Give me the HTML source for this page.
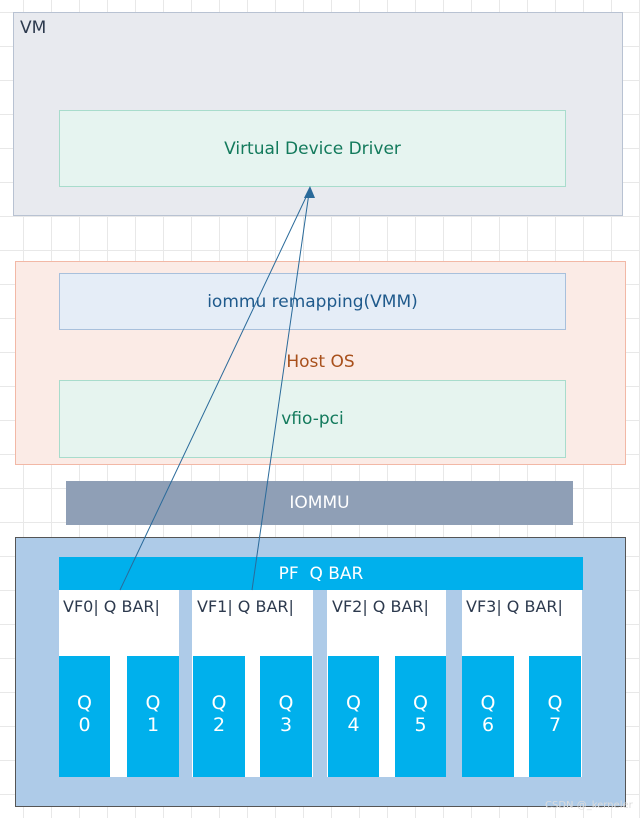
<!DOCTYPE html>
<html><head><style>
body{margin:0;width:640px;height:818px;position:relative;overflow:hidden;font-family:"DejaVu Sans","Liberation Sans",sans-serif;
background-color:#fff;background-image:linear-gradient(#e8e8e8 1px,transparent 1px),linear-gradient(90deg,#e8e8e8 1px,transparent 1px);background-size:28px 34px;background-position:23px 12px;}
.b{position:absolute;box-sizing:border-box;}
.c{display:flex;align-items:center;justify-content:center;}
.q{background:#00b0ec;color:#fff;font-size:19px;text-align:center;line-height:22px;padding-top:36px;}
</style></head><body>
<div class="b" style="left:13px;top:12px;width:610px;height:204px;background:#e8eaef;border:1px solid #b8c2d2"></div>
<div class="b" style="left:20px;top:18px;font-size:17px;color:#2d3a4e">VM</div>
<div class="b c" style="left:59px;top:110px;width:507px;height:77px;background:#e6f4f0;border:1px solid #a8dccc;color:#137a5c;font-size:17px">Virtual Device Driver</div>

<div class="b" style="left:15px;top:261px;width:611px;height:204px;background:#fbebe6;border:1px solid #f2b8a6"></div>
<div class="b c" style="left:59px;top:273px;width:507px;height:57px;background:#e5edf7;border:1px solid #a8c0dc;color:#1f5a8c;font-size:17px">iommu remapping(VMM)</div>
<div class="b c" style="left:15px;top:350px;width:611px;height:24px;color:#a8501c;font-size:17px">Host OS</div>
<div class="b c" style="left:59px;top:380px;width:507px;height:78px;background:#e6f4ef;border:1px solid #a8dccc;color:#137a5c;font-size:17px">vfio-pci</div>

<div class="b c" style="left:66px;top:481px;width:507px;height:44px;background:#8f9fb6;color:#fff;font-size:17px">IOMMU</div>

<div class="b" style="left:15px;top:537px;width:611px;height:270px;background:#aecbe8;border:1px solid #555"></div>
<div class="b c" style="left:59px;top:557px;width:524px;height:33px;background:#00b0ec;color:#fff;font-size:17px">PF&nbsp;&nbsp;Q BAR</div>

<div class="b" style="left:59px;top:590px;width:120px;height:187px;background:#fff"></div>
<div class="b" style="left:192px;top:590px;width:121px;height:187px;background:#fff"></div>
<div class="b" style="left:327px;top:590px;width:119px;height:187px;background:#fff"></div>
<div class="b" style="left:462px;top:590px;width:120px;height:187px;background:#fff"></div>
<div class="b" style="left:63px;top:597px;font-size:16px;color:#2d3a4e">VF0| Q BAR|</div>
<div class="b" style="left:197px;top:597px;font-size:16px;color:#2d3a4e">VF1| Q BAR|</div>
<div class="b" style="left:332px;top:597px;font-size:16px;color:#2d3a4e">VF2| Q BAR|</div>
<div class="b" style="left:466px;top:597px;font-size:16px;color:#2d3a4e">VF3| Q BAR|</div>

<div class="b q" style="left:59px;top:656px;width:51px;height:121px">Q<br>0</div>
<div class="b q" style="left:127px;top:656px;width:52px;height:121px">Q<br>1</div>
<div class="b q" style="left:193px;top:656px;width:52px;height:121px">Q<br>2</div>
<div class="b q" style="left:260px;top:656px;width:52px;height:121px">Q<br>3</div>
<div class="b q" style="left:328px;top:656px;width:51px;height:121px">Q<br>4</div>
<div class="b q" style="left:395px;top:656px;width:51px;height:121px">Q<br>5</div>
<div class="b q" style="left:462px;top:656px;width:52px;height:121px">Q<br>6</div>
<div class="b q" style="left:529px;top:656px;width:52px;height:121px">Q<br>7</div>

<div class="b" style="left:545px;top:800px;font-size:10px;color:#ddd">CSDN @_kerneler</div>

<svg class="b" style="left:0;top:0" width="640" height="818">
<line x1="120" y1="590" x2="308" y2="193" stroke="#2a6a9a" stroke-width="1"/>
<line x1="252" y1="590" x2="309" y2="193" stroke="#2a6a9a" stroke-width="1"/>
<polygon points="310,186 304,198 315,198" fill="#2a6a9a"/>
</svg>
</body></html>
